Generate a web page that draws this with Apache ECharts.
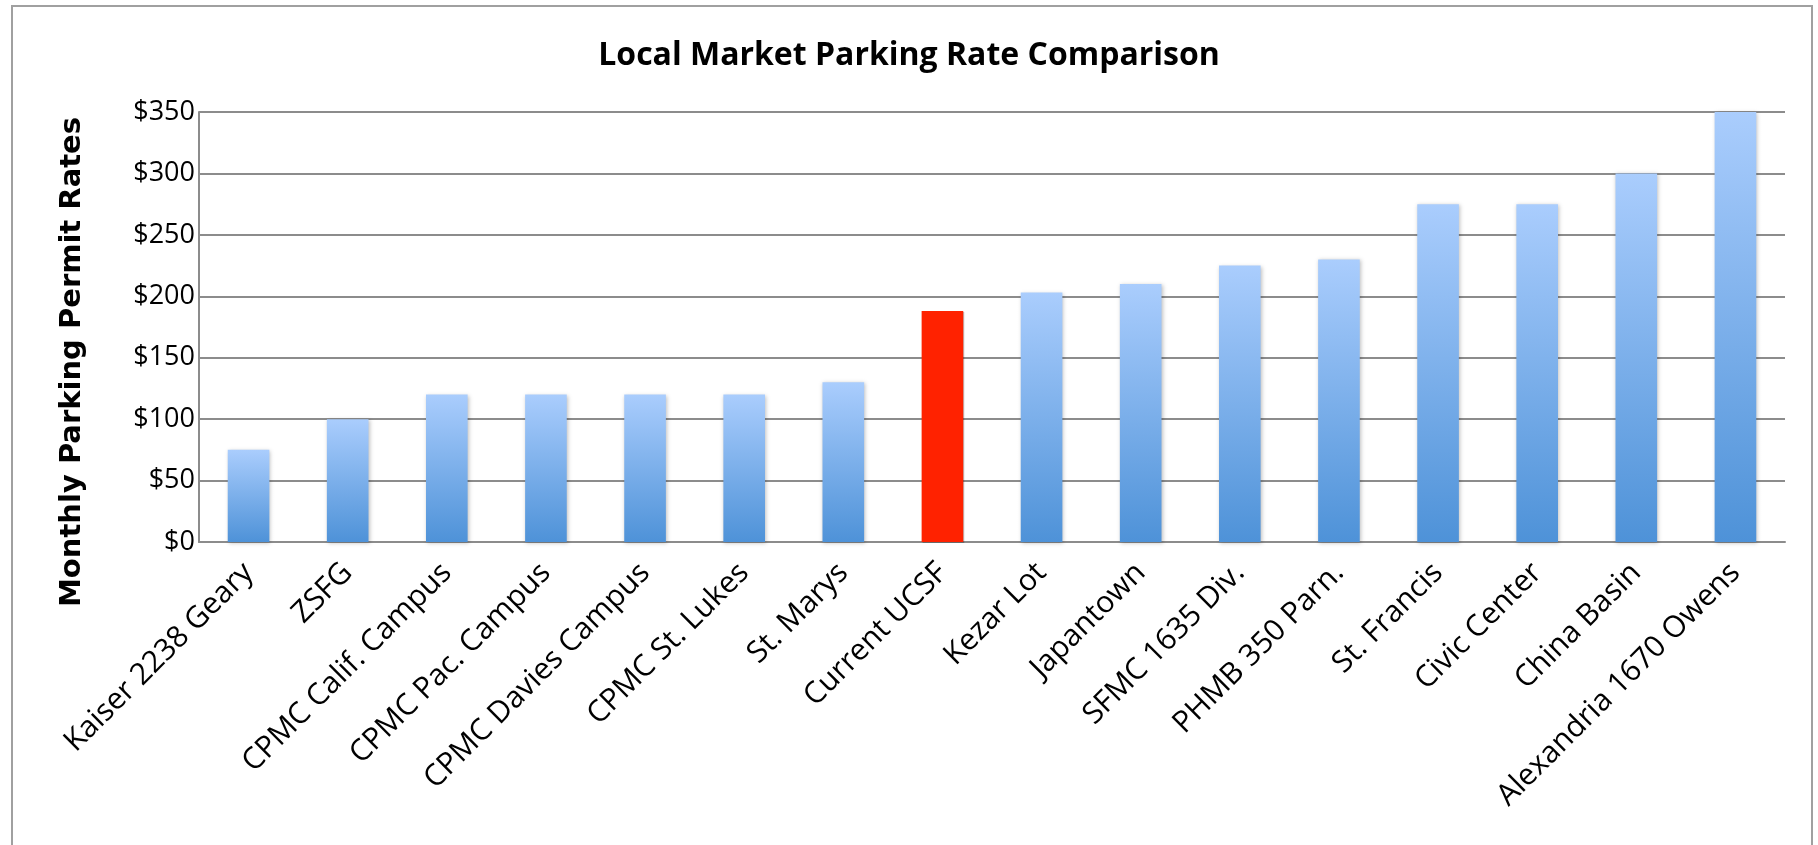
<!DOCTYPE html>
<html>
<head>
  <meta charset="UTF-8">
  <title>Local Market Parking Rate Comparison</title>
  <script src="https://cdn.jsdelivr.net/npm/echarts/dist/echarts.min.js"></script>
  <style>
    html, body { margin: 0; padding: 0; background: #fff; }
    #main { width: 1818px; height: 845px; }
  </style>
</head>
<body>
  <div id="main"></div>
  <script>
    var categories = ['Kaiser 2238 Geary', 'ZSFG', 'CPMC Calif. Campus', 'CPMC Pac. Campus',
      'CPMC Davies Campus', 'CPMC St. Lukes', 'St. Marys', 'Current UCSF', 'Kezar Lot',
      'Japantown', 'SFMC 1635 Div.', 'PHMB 350 Parn.', 'St. Francis', 'Civic Center',
      'China Basin', 'Alexandria 1670 Owens'];
    var rates = [75, 100, 120, 120, 120, 120, 130, 188, 203, 210, 225, 230, 275, 275, 300, 350];
    var highlighted = 'Current UCSF';
    var yTicks = [0, 50, 100, 150, 200, 250, 300, 350];

    var chart = echarts.init(document.getElementById('main'));

    var blueFill = new echarts.graphic.LinearGradient(0, 0, 0, 1, [
      { offset: 0, color: '#aacdfd' },
      { offset: 1, color: '#4e92d8' }
    ]);

    var barData = rates.map(function (v, i) {
      if (categories[i] === highlighted) {
        return { value: v, itemStyle: { color: '#ff2200', shadowBlur: 0 } };
      }
      return v;
    });

    var option = {
      backgroundColor: '#ffffff',
      animation: false,
      graphic: [{
        type: 'rect',
        shape: { x: 12, y: 6, width: 1800, height: 900 },
        style: { fill: 'none', stroke: '#a0a0a0', lineWidth: 2 }
      }],
      title: {
        text: 'Local Market Parking Rate Comparison',
        left: 'center',
        top: 35,
        textStyle: {
          fontFamily: 'Open Sans',
          fontWeight: 'bold',
          fontSize: 32,
          color: '#000'
        }
      },
      grid: { left: 199, right: 33, top: 112, bottom: 303, containLabel: false },
      xAxis: {
        type: 'category',
        data: categories,
        axisTick: { show: false },
        axisLine: { lineStyle: { color: '#8c8c8c', width: 2 } },
        axisLabel: {
          rotate: 45,
          interval: 0,
          margin: 26,
          fontFamily: 'Open Sans',
          fontSize: 30,
          color: '#000'
        }
      },
      yAxis: {
        type: 'value',
        min: yTicks[0],
        max: yTicks[yTicks.length - 1],
        interval: 50,
        name: 'Monthly Parking Permit Rates',
        nameLocation: 'middle',
        nameGap: 112,
        nameTextStyle: {
          fontFamily: 'DejaVu Sans',
          fontWeight: 'bold',
          fontSize: 29,
          color: '#000',
          padding: [0, 70, 0, 0]
        },
        axisLine: { show: true, lineStyle: { color: '#8c8c8c', width: 2 } },
        axisTick: { show: false },
        splitLine: { lineStyle: { color: '#8c8c8c', width: 2 } },
        axisLabel: {
          margin: 4,
          fontFamily: 'Open Sans',
          fontSize: 27,
          color: '#000',
          formatter: function (v) { return '$' + v; }
        }
      },
      series: [{
        type: 'bar',
        barWidth: '42%',
        data: barData,
        itemStyle: {
          color: blueFill,
          shadowBlur: 4,
          shadowColor: 'rgba(0,0,0,0.25)',
          shadowOffsetX: 1,
          shadowOffsetY: 1
        }
      }]
    };

    chart.setOption(option);
  </script>
</body>
</html>
